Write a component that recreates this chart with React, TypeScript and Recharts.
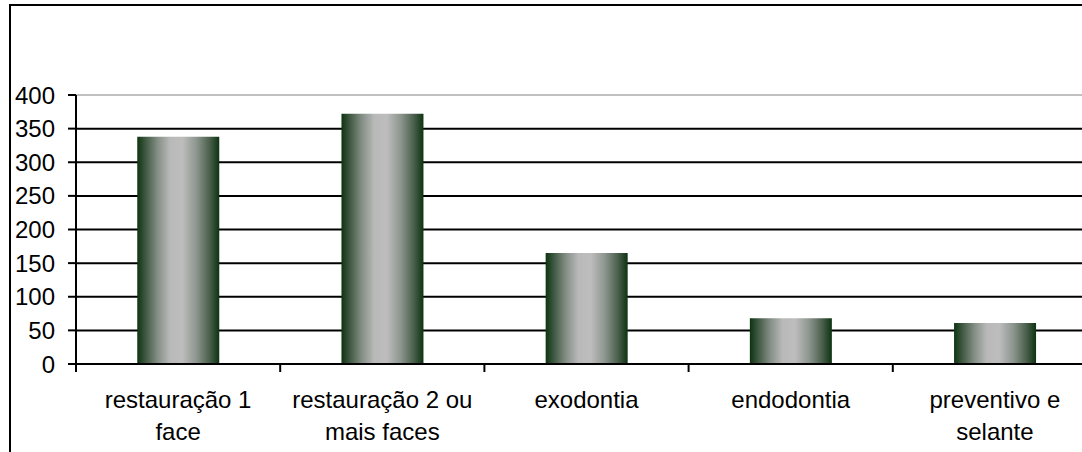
import React from 'react';
import { BarChart, Bar, XAxis, YAxis, CartesianGrid, ReferenceLine } from 'recharts';

const categories = [
  'restauração 1 face',
  'restauração 2 ou mais faces',
  'exodontia',
  'endodontia',
  'preventivo e selante',
];
const tickLabelLines = [
  ['restauração 1', 'face'],
  ['restauração 2 ou', 'mais faces'],
  ['exodontia'],
  ['endodontia'],
  ['preventivo e', 'selante'],
];
const values = [338, 372, 165, 68, 61];
const yTicks = [0, 50, 100, 150, 200, 250, 300, 350, 400];

const data = categories.map((name, i) => ({ name, value: values[i] }));

const FONT = '"Liberation Sans", Arial, sans-serif';

const CategoryTick = (props: any) => {
  const { x, y, payload } = props;
  const idx = categories.indexOf(payload.value);
  const half = payload && typeof payload.offset === 'number' && payload.offset > 0 ? payload.offset : 102;
  const lines = tickLabelLines[idx] || [String(payload.value)];
  return (
    <g>
      <line x1={x - half} x2={x - half} y1={y} y2={y + 8} stroke="#000" strokeWidth={2} />
      <text x={x} y={y + 44} textAnchor="middle" fontSize={24} fontFamily={FONT} fill="#000">
        {lines.map((l, i) => (
          <tspan key={i} x={x} dy={i === 0 ? 0 : 32}>
            {l}
          </tspan>
        ))}
      </text>
    </g>
  );
};

export default function App() {
  return (
    <div
      style={{
        position: 'fixed',
        left: 0,
        top: 0,
        width: 1082,
        height: 452,
        overflow: 'hidden',
        background: '#fff',
      }}
    >
      <div
        style={{
          position: 'absolute',
          left: 9,
          top: 4,
          width: 2000,
          height: 2000,
          borderLeft: '2px solid #000',
          borderTop: '2px solid #000',
        }}
      />
      <div style={{ position: 'absolute', left: 0, top: 0 }}>
        <BarChart
          width={1110}
          height={452}
          data={data}
          margin={{ top: 95, right: 13, left: 0, bottom: 0 }}
          barCategoryGap="30%"
        >
          <defs>
            <linearGradient id="barGrad" x1="0" y1="0" x2="1" y2="0">
              <stop offset="0%" stopColor="#0d3311" />
              <stop offset="10%" stopColor="#3f5842" />
              <stop offset="25%" stopColor="#858f86" />
              <stop offset="40%" stopColor="#b9b9b9" />
              <stop offset="55%" stopColor="#bdbdbd" />
              <stop offset="72%" stopColor="#8e968f" />
              <stop offset="88%" stopColor="#4b604d" />
              <stop offset="100%" stopColor="#0d3311" />
            </linearGradient>
          </defs>
          <CartesianGrid vertical={false} stroke="#000" strokeWidth={2} />
          <ReferenceLine y={400} stroke="#c0c0c0" strokeWidth={2} />
          <XAxis
            dataKey="name"
            height={88}
            interval={0}
            tickSize={0}
            tickMargin={0}
            tickLine={false}
            axisLine={{ stroke: '#000', strokeWidth: 2 }}
            tick={<CategoryTick />}
          />
          <YAxis
            width={76}
            domain={[0, 400]}
            ticks={yTicks}
            interval={0}
            tickSize={8}
            tickMargin={13}
            axisLine={{ stroke: '#000', strokeWidth: 2 }}
            tickLine={{ stroke: '#000', strokeWidth: 2 }}
            tick={{ fontSize: 24, fill: '#000', fontFamily: FONT }}
          />
          <Bar dataKey="value" fill="url(#barGrad)" isAnimationActive={false} />
        </BarChart>
      </div>
    </div>
  );
}
